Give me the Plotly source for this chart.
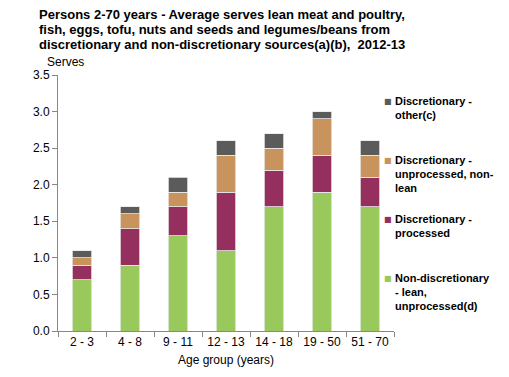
import plotly.graph_objects as go

age_groups = ['2 - 3', '4 - 8', '9 - 11', '12 - 13', '14 - 18', '19 - 50', '51 - 70']
non_disc_lean = [0.7, 0.9, 1.3, 1.1, 1.7, 1.9, 1.7]
disc_processed = [0.2, 0.5, 0.4, 0.8, 0.5, 0.5, 0.4]
disc_unproc_nonlean = [0.1, 0.2, 0.2, 0.5, 0.3, 0.5, 0.3]
disc_other = [0.1, 0.1, 0.2, 0.2, 0.2, 0.1, 0.2]

# name, legend lines, values, colour (bottom to top of stack)
series = [
    ('Non-discretionary - lean, unprocessed(d)',
     ['Non-discretionary', '- lean,', 'unprocessed(d)'], non_disc_lean, '#99C95D'),
    ('Discretionary - processed',
     ['Discretionary -', 'processed'], disc_processed, '#95305E'),
    ('Discretionary - unprocessed, non-lean',
     ['Discretionary -', 'unprocessed, non-', 'lean'], disc_unproc_nonlean, '#C8935C'),
    ('Discretionary - other(c)',
     ['Discretionary -', 'other(c)'], disc_other, '#5B5B5B'),
]

fig = go.Figure()
for name, _, vals, col in series:
    fig.add_trace(go.Bar(x=age_groups, y=vals, name=name, marker_color=col,
                         showlegend=False,
                         marker_line=dict(color='#E8E8E8', width=0.8)))

# page has an 8px body margin, so the figure is 501x369 placed at (8, 8)
L, T, R, B = 50, 67, 386, 323
PW, PH = R - L, B - T


def px(x):
    return (x - L) / PW


def py(y):
    return (B - y) / PH


title_lines = [
    'Persons 2-70 years - Average serves lean meat and poultry,',
    'fish, eggs, tofu, nuts and seeds and legumes/beans from',
    'discretionary and non-discretionary sources(a)(b),  2012-13',
]
annots = []
for k, line in enumerate(title_lines):
    annots.append(dict(text=line, xref='paper', yref='paper',
                       x=px(29), y=py(-3 + 15 * k),
                       xanchor='left', yanchor='top', showarrow=False,
                       font=dict(size=13, weight='bold')))
annots.append(dict(text='Serves', xref='paper', yref='paper', x=px(37), y=py(54),
                   xanchor='left', yanchor='middle', showarrow=False, font=dict(size=12)))

# legend drawn as text, top entry first, evenly spaced slots
for slot, (_, lines, _, col) in enumerate(reversed(series)):
    y0 = 93 + 59 * slot
    annots.append(dict(text='\u25A0', xref='paper', yref='paper', x=px(380), y=py(y0),
                       xanchor='center', yanchor='middle', showarrow=False,
                       font=dict(size=8, color=col, family='DejaVu Sans')))
    for k, line in enumerate(lines):
        annots.append(dict(text=line, xref='paper', yref='paper', x=px(385), y=py(y0 + 14 * k),
                           xanchor='left', yanchor='middle', showarrow=False,
                           font=dict(size=11, weight='bold')))

fig.update_layout(
    barmode='stack',
    bargap=0.6,
    width=501, height=369,
    margin=dict(l=L, r=501 - R, t=T, b=369 - B, autoexpand=False),
    plot_bgcolor='white',
    paper_bgcolor='white',
    font=dict(family='Liberation Sans, Arial', size=12, color='black'),
    xaxis=dict(
        title=dict(text='Age group (years)', font=dict(size=12), standoff=7),
        showline=True, linecolor='#888888', linewidth=1,
        ticks='outside', tickson='boundaries', ticklen=5, tickcolor='#888888',
        showgrid=False, tickangle=0, automargin=False,
    ),
    yaxis=dict(
        range=[0, 3.5], dtick=0.5, tickformat='.1f',
        showline=True, linecolor='#888888', linewidth=1,
        ticks='outside', ticklen=5, tickcolor='#888888',
        showgrid=False, zeroline=False, automargin=False,
    ),
    annotations=annots,
)

fig.write_html('out.html')
